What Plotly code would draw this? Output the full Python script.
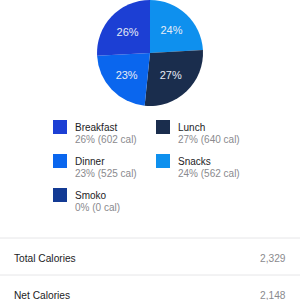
import plotly.graph_objects as go

# ---- data ----
meals = ["Breakfast", "Lunch", "Dinner", "Snacks", "Smoko"]
calories = [602, 640, 525, 562, 0]
colors = ["#1c3fd4", "#1a2d4d", "#0a66ee", "#0e90ee", "#133a94"]
pie_order = ["Snacks", "Lunch", "Dinner", "Breakfast", "Smoko"]
summary_labels = ["Total Calories", "Net Calories"]
net_calories = 2148

total = sum(calories)
summary_values = [total, net_calories]

W, H = 300, 300
FONT = "Liberation Sans, Arial, sans-serif"


def px(x):
    return x / W


def py(y):
    return 1 - y / H


idx = [meals.index(m) for m in pie_order]
fig = go.Figure(
    go.Pie(
        labels=[meals[i] for i in idx],
        values=[calories[i] for i in idx],
        marker=dict(colors=[colors[i] for i in idx], line=dict(width=0)),
        sort=False,
        direction="clockwise",
        rotation=0,
        texttemplate="%{percent:.0%}",
        textposition="inside",
        insidetextorientation="horizontal",
        textfont=dict(family=FONT, size=11, color="#e6ebf5"),
        showlegend=False,
        domain=dict(x=[0.15, 0.85], y=[py(106), 1]),
        hoverinfo="skip",
    )
)

shapes = []
annotations = []

# custom legend (2 columns)
col_x = [53, 156]
row_y = [120, 154, 188]
for k, (m, c, col) in enumerate(zip(meals, calories, colors)):
    cx = col_x[k % 2]
    ty = row_y[k // 2]
    shapes.append(dict(type="rect", xref="paper", yref="paper",
                       x0=px(cx), x1=px(cx + 14), y0=py(ty + 14), y1=py(ty),
                       fillcolor=col, line=dict(width=0)))
    pct = round(100 * c / total) if total else 0
    annotations.append(dict(x=px(cx + 20), y=py(ty + 7), xref="paper", yref="paper",
                            text=m, showarrow=False, xanchor="left", yanchor="middle",
                            font=dict(family=FONT, size=10, color="#1c1c1e")))
    annotations.append(dict(x=px(cx + 20), y=py(ty + 19.5), xref="paper", yref="paper",
                            text=f"{pct}% ({c:,} cal)", showarrow=False,
                            xanchor="left", yanchor="middle",
                            font=dict(family=FONT, size=10, color="#8a8a8e")))

# summary rows
line_y = [238, 275]
text_y = [258, 295]
for ly in line_y:
    shapes.append(dict(type="line", xref="paper", yref="paper",
                       x0=0, x1=1, y0=py(ly), y1=py(ly),
                       line=dict(color="#e6e6e8", width=1)))
for lab, val, ty in zip(summary_labels, summary_values, text_y):
    annotations.append(dict(x=px(12), y=py(ty), xref="paper", yref="paper",
                            text=lab, showarrow=False, xanchor="left", yanchor="middle",
                            font=dict(family=FONT, size=10.2, color="#1c1c1e")))
    annotations.append(dict(x=px(288), y=py(ty), xref="paper", yref="paper",
                            text=f"{val:,}", showarrow=False, xanchor="right", yanchor="middle",
                            font=dict(family=FONT, size=10.2, color="#8a8a8e")))

fig.update_layout(
    width=W, height=H,
    margin=dict(l=0, r=0, t=0, b=0),
    paper_bgcolor="white", plot_bgcolor="white",
    shapes=shapes, annotations=annotations,
)

fig.write_html("out.html", config={"displayModeBar": False})
